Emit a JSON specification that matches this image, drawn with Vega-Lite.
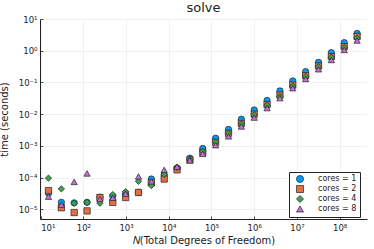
{
  "$schema": "https://vega.github.io/schema/vega-lite/v6.json",
  "autosize": "none",
  "width": 327,
  "height": 200,
  "padding": {"left": 40, "top": 19, "right": 7, "bottom": 30},
  "background": "white",
  "title": {"text": "solve", "fontSize": 13, "font": "DejaVu Sans", "fontWeight": "normal", "color": "#222222", "offset": 0, "anchor": "middle"},
  "config": {
    "view": {"stroke": null},
    "axis": {
      "domainColor": "#222222", "domainWidth": 1,
      "tickColor": "#222222", "tickSize": -3, "tickWidth": 0.8,
      "gridColor": "#e8e8e8", "gridWidth": 0.6,
      "labelFont": "DejaVu Sans", "labelFontSize": 8.5, "labelColor": "#222222",
      "titleFont": "DejaVu Sans", "titleFontSize": 10, "titleFontWeight": "normal", "titleColor": "#222222"
    }
  },
  "data": {"values": [
    {"N": 15.2588, "cores": "cores = 1", "time": 3.2e-5},
    {"N": 30.5176, "cores": "cores = 1", "time": 1.66e-5},
    {"N": 61.0352, "cores": "cores = 1", "time": 1.6e-5},
    {"N": 122.07, "cores": "cores = 1", "time": 1.66e-5},
    {"N": 244.141, "cores": "cores = 1", "time": 2.4e-5},
    {"N": 488.281, "cores": "cores = 1", "time": 2.6e-5},
    {"N": 976.563, "cores": "cores = 1", "time": 3.2e-5},
    {"N": 1953.13, "cores": "cores = 1", "time": 3.4e-5},
    {"N": 3906.25, "cores": "cores = 1", "time": 9.0e-5},
    {"N": 7812.5, "cores": "cores = 1", "time": 1.2e-4},
    {"N": 15625, "cores": "cores = 1", "time": 2.0e-4},
    {"N": 31250, "cores": "cores = 1", "time": 4.1e-4},
    {"N": 62500, "cores": "cores = 1", "time": 8.3e-4},
    {"N": 125000, "cores": "cores = 1", "time": 1.74e-3},
    {"N": 250000, "cores": "cores = 1", "time": 3.3e-3},
    {"N": 500000, "cores": "cores = 1", "time": 6.9e-3},
    {"N": 1000000, "cores": "cores = 1", "time": 1.35e-2},
    {"N": 2000000, "cores": "cores = 1", "time": 2.7e-2},
    {"N": 4000000, "cores": "cores = 1", "time": 5.4e-2},
    {"N": 8000000, "cores": "cores = 1", "time": 0.111},
    {"N": 16000000, "cores": "cores = 1", "time": 0.219},
    {"N": 32000000, "cores": "cores = 1", "time": 0.43},
    {"N": 64000000, "cores": "cores = 1", "time": 0.87},
    {"N": 128000000, "cores": "cores = 1", "time": 1.8},
    {"N": 256000000, "cores": "cores = 1", "time": 3.5},

    {"N": 15.2588, "cores": "cores = 2", "time": 3.9e-5},
    {"N": 30.5176, "cores": "cores = 2", "time": 1.12e-5},
    {"N": 61.0352, "cores": "cores = 2", "time": 7.9e-6},
    {"N": 122.07, "cores": "cores = 2", "time": 8.9e-6},
    {"N": 244.141, "cores": "cores = 2", "time": 2.35e-5},
    {"N": 488.281, "cores": "cores = 2", "time": 1.65e-5},
    {"N": 976.563, "cores": "cores = 2", "time": 2.35e-5},
    {"N": 1953.13, "cores": "cores = 2", "time": 3.4e-5},
    {"N": 3906.25, "cores": "cores = 2", "time": 6.9e-5},
    {"N": 7812.5, "cores": "cores = 2", "time": 9.0e-5},
    {"N": 15625, "cores": "cores = 2", "time": 1.75e-4},
    {"N": 31250, "cores": "cores = 2", "time": 3.6e-4},
    {"N": 62500, "cores": "cores = 2", "time": 6.2e-4},
    {"N": 125000, "cores": "cores = 2", "time": 1.3e-3},
    {"N": 250000, "cores": "cores = 2", "time": 2.5e-3},
    {"N": 500000, "cores": "cores = 2", "time": 5.1e-3},
    {"N": 1000000, "cores": "cores = 2", "time": 1.0e-2},
    {"N": 2000000, "cores": "cores = 2", "time": 2.0e-2},
    {"N": 4000000, "cores": "cores = 2", "time": 4.0e-2},
    {"N": 8000000, "cores": "cores = 2", "time": 0.083},
    {"N": 16000000, "cores": "cores = 2", "time": 0.163},
    {"N": 32000000, "cores": "cores = 2", "time": 0.33},
    {"N": 64000000, "cores": "cores = 2", "time": 0.65},
    {"N": 128000000, "cores": "cores = 2", "time": 1.34},
    {"N": 256000000, "cores": "cores = 2", "time": 2.8},

    {"N": 15.2588, "cores": "cores = 4", "time": 9.6e-5},
    {"N": 30.5176, "cores": "cores = 4", "time": 4.4e-5},
    {"N": 61.0352, "cores": "cores = 4", "time": 1.55e-5},
    {"N": 122.07, "cores": "cores = 4", "time": 1.65e-5},
    {"N": 244.141, "cores": "cores = 4", "time": 1.55e-5},
    {"N": 488.281, "cores": "cores = 4", "time": 2.9e-5},
    {"N": 976.563, "cores": "cores = 4", "time": 3.6e-5},
    {"N": 1953.13, "cores": "cores = 4", "time": 7.6e-5},
    {"N": 3906.25, "cores": "cores = 4", "time": 5.6e-5},
    {"N": 7812.5, "cores": "cores = 4", "time": 1.25e-4},
    {"N": 15625, "cores": "cores = 4", "time": 2.1e-4},
    {"N": 31250, "cores": "cores = 4", "time": 3.6e-4},
    {"N": 62500, "cores": "cores = 4", "time": 6.6e-4},
    {"N": 125000, "cores": "cores = 4", "time": 1.3e-3},
    {"N": 250000, "cores": "cores = 4", "time": 2.5e-3},
    {"N": 500000, "cores": "cores = 4", "time": 4.9e-3},
    {"N": 1000000, "cores": "cores = 4", "time": 9.5e-3},
    {"N": 2000000, "cores": "cores = 4", "time": 1.9e-2},
    {"N": 4000000, "cores": "cores = 4", "time": 3.6e-2},
    {"N": 8000000, "cores": "cores = 4", "time": 0.077},
    {"N": 16000000, "cores": "cores = 4", "time": 0.152},
    {"N": 32000000, "cores": "cores = 4", "time": 0.31},
    {"N": 64000000, "cores": "cores = 4", "time": 0.62},
    {"N": 128000000, "cores": "cores = 4", "time": 1.25},
    {"N": 256000000, "cores": "cores = 4", "time": 2.5},

    {"N": 15.2588, "cores": "cores = 8", "time": 2.5e-5},
    {"N": 30.5176, "cores": "cores = 8", "time": 1.4e-5},
    {"N": 61.0352, "cores": "cores = 8", "time": 7.3e-5},
    {"N": 122.07, "cores": "cores = 8", "time": 1.35e-4},
    {"N": 244.141, "cores": "cores = 8", "time": 2.1e-5},
    {"N": 488.281, "cores": "cores = 8", "time": 2.3e-5},
    {"N": 976.563, "cores": "cores = 8", "time": 3.1e-5},
    {"N": 1953.13, "cores": "cores = 8", "time": 1.08e-4},
    {"N": 3906.25, "cores": "cores = 8", "time": 7.6e-5},
    {"N": 7812.5, "cores": "cores = 8", "time": 1.75e-4},
    {"N": 15625, "cores": "cores = 8", "time": 2.2e-4},
    {"N": 31250, "cores": "cores = 8", "time": 3.5e-4},
    {"N": 62500, "cores": "cores = 8", "time": 5.6e-4},
    {"N": 125000, "cores": "cores = 8", "time": 1.05e-3},
    {"N": 250000, "cores": "cores = 8", "time": 2.0e-3},
    {"N": 500000, "cores": "cores = 8", "time": 4.1e-3},
    {"N": 1000000, "cores": "cores = 8", "time": 7.8e-3},
    {"N": 2000000, "cores": "cores = 8", "time": 1.55e-2},
    {"N": 4000000, "cores": "cores = 8", "time": 3.2e-2},
    {"N": 8000000, "cores": "cores = 8", "time": 0.066},
    {"N": 16000000, "cores": "cores = 8", "time": 0.129},
    {"N": 32000000, "cores": "cores = 8", "time": 0.26},
    {"N": 64000000, "cores": "cores = 8", "time": 0.51},
    {"N": 128000000, "cores": "cores = 8", "time": 1.06},
    {"N": 256000000, "cores": "cores = 8", "time": 2.1}
  ]},
  "mark": {"type": "point", "filled": true, "size": 40, "stroke": "#222222", "strokeWidth": 0.7, "opacity": 1},
  "encoding": {
    "x": {
      "field": "N", "type": "quantitative",
      "scale": {"type": "log", "domain": [9.66, 437000000], "nice": false},
      "axis": {
        "title": "𝑁(Total Degrees of Freedom)",
        "values": [10, 100, 1000, 10000, 100000, 1000000, 10000000, 100000000],
        "labelExpr": "'10' + ['⁰','¹','²','³','⁴','⁵','⁶','⁷','⁸'][round(log(datum.value)/LN10)]",
        "titlePadding": 4, "labelPadding": 7
      }
    },
    "y": {
      "field": "time", "type": "quantitative",
      "scale": {"type": "log", "domain": [4.94e-6, 10], "nice": false},
      "axis": {
        "title": "time (seconds)",
        "values": [0.00001, 0.0001, 0.001, 0.01, 0.1, 1, 10],
        "labelExpr": "'10' + ['⁻⁵','⁻⁴','⁻³','⁻²','⁻¹','⁰','¹'][round(log(datum.value)/LN10)+5]",
        "titlePadding": 9, "labelPadding": 6
      }
    },
    "color": {
      "field": "cores", "type": "nominal",
      "scale": {"domain": ["cores = 1", "cores = 2", "cores = 4", "cores = 8"], "range": ["#009AFA", "#E36F47", "#3EA44E", "#C271D2"]},
      "legend": {
        "title": null, "orient": "none", "legendX": 249, "legendY": 153,
        "fillColor": "white", "strokeColor": "#222222", "padding": 3,
        "labelFont": "DejaVu Sans", "labelFontSize": 8, "labelColor": "#222222",
        "symbolSize": 50, "symbolStrokeColor": "#222222", "symbolStrokeWidth": 0.7,
        "rowPadding": 0, "labelOffset": 14, "symbolOffset": 4
      }
    },
    "shape": {
      "field": "cores", "type": "nominal",
      "scale": {"domain": ["cores = 1", "cores = 2", "cores = 4", "cores = 8"], "range": ["circle", "square", "diamond", "triangle-up"]},
      "legend": null
    }
  }
}
